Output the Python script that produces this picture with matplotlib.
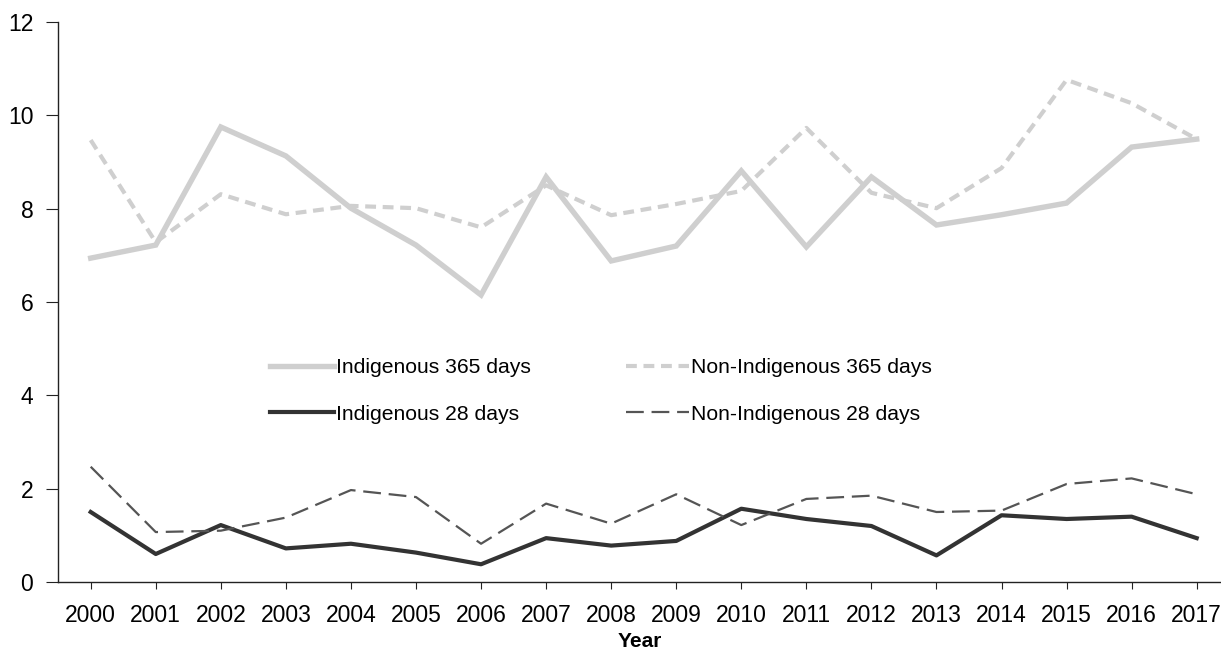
import matplotlib
matplotlib.use("Agg")
import matplotlib.pyplot as plt

plt.rcParams['font.family'] = ['Liberation Sans', 'DejaVu Sans']

years = list(range(2000, 2018))
indig_365 = [6.94, 7.22, 9.75, 9.13, 8.01, 7.22, 6.15, 8.68, 6.88, 7.20,
             8.81, 7.18, 8.68, 7.65, 7.87, 8.12, 9.32, 9.49]
nonindig_365 = [9.47, 7.28, 8.31, 7.88, 8.06, 8.01, 7.60, 8.50, 7.86, 8.10,
                8.38, 9.73, 8.34, 8.01, 8.87, 10.76, 10.26, 9.49]
indig_28 = [1.50, 0.60, 1.22, 0.72, 0.82, 0.63, 0.38, 0.94, 0.78, 0.88,
            1.57, 1.35, 1.20, 0.57, 1.43, 1.35, 1.40, 0.94]
nonindig_28 = [2.47, 1.07, 1.10, 1.38, 1.97, 1.82, 0.82, 1.68, 1.25, 1.88,
               1.22, 1.78, 1.85, 1.50, 1.53, 2.10, 2.22, 1.88]
yticks = [0, 2, 4, 6, 8, 10, 12]

fig = plt.figure(figsize=(12.21, 6.66), dpi=100)
ax = fig.add_axes([58.3 / 1221, 1 - 582 / 666, 1 - 58.3 / 1221, 560 / 666])

light = '#cfcfcf'
dark = '#333333'
mid = '#555555'

ax.plot(years, indig_365, color=light, lw=3.9, solid_joinstyle='miter',
        label='Indigenous 365 days')
ax.plot(years, indig_28, color=dark, lw=3.0, label='Indigenous 28 days')
ax.plot(years, nonindig_365, color=light, lw=3.0, dashes=(2.6, 1.6),
        label='Non-Indigenous 365 days')
ax.plot(years, nonindig_28, color=mid, lw=1.6, dashes=(8, 3.5),
        label='Non-Indigenous 28 days')

ax.set_xlim(2000 - 32.4 / 65.06, 2017 + 24.3 / 65.06)
ax.set_ylim(0, 12)
ax.set_xticks(years)
ax.set_xticklabels([str(y) for y in years])
ax.set_yticks(yticks)

for s in ['top', 'right']:
    ax.spines[s].set_visible(False)
for s in ['left', 'bottom']:
    ax.spines[s].set_linewidth(1.0)
    ax.spines[s].set_color('#222222')

ax.tick_params(axis='x', direction='out', length=5, width=0.8, pad=10.5,
               labelsize=16.5, colors='#222222', labelcolor='black')
ax.tick_params(axis='y', direction='out', length=9, width=0.8, pad=9,
               labelsize=16.5, colors='#222222', labelcolor='black')

ax.set_xlabel('Year', fontsize=15, fontweight='bold', labelpad=4)

leg = ax.legend(ncol=2, frameon=False, loc='center',
                bbox_to_anchor=(0.467, 0.341), fontsize=15.2,
                handlelength=3.0, handletextpad=0.1, columnspacing=4.5,
                labelspacing=1.3)

fig.savefig('out.png', dpi=100)
